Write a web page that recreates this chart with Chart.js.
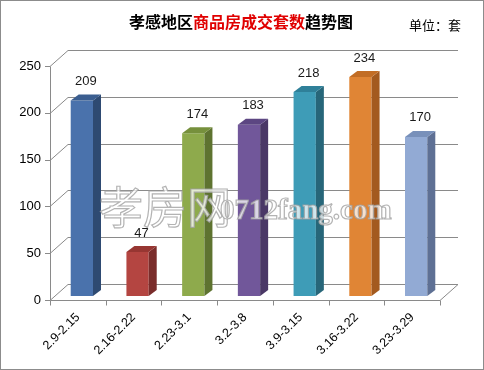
<!DOCTYPE html>
<html>
<head>
<meta charset="utf-8">
<script src="https://cdn.jsdelivr.net/npm/chart.js@4.4.1/dist/chart.umd.min.js"></script>
<style>
  html, body { margin:0; padding:0; background:#fff; }
  #wrap { width:484px; height:370px; }
</style>
</head>
<body>
<div id="wrap"><canvas id="salesChart" width="484" height="370"></canvas></div>
<script>
const weeks = ["2.9-2.15","2.16-2.22","2.23-3.1","3.2-3.8","3.9-3.15","3.16-3.22","3.23-3.29"];
const units = [209, 47, 174, 183, 218, 234, 170];
const yTicks = [0, 50, 100, 150, 200, 250];

const frontColors = ["#4A72AC","#B44541","#8EAA4C","#71579A","#3E9CB7","#E08535","#92AAD4"];
const topColors   = ["#3B5E90","#973632","#76903C","#5C4682","#2F8099","#C26D25","#7890BA"];
const sideColors  = ["#2E4A72","#7A2D2B","#5E7330","#4A3866","#276679","#A35A1F","#5E7094"];

// 3D offsets
const FRONT = {dx:-4, dy:4};
const BACK = {dx:14, dy:-12};
const DEPTH = {dx:8, dy:-6};

const chrome = {
    id:"chrome",
    beforeDraw(chart){
        const ctx = chart.ctx;
        const area = chart.chartArea;
        const y = chart.scales.y;
        ctx.save();
        ctx.fillStyle = "#fff";
        ctx.fillRect(0,0,chart.width,chart.height);
        ctx.strokeStyle = "#8c8c8c";
        ctx.lineWidth = 1;
        ctx.strokeRect(0.5,0.5,chart.width-1,chart.height-1);

        // title, two colours
        ctx.font = "bold 16px 'Noto Sans CJK SC'";
        ctx.textBaseline = "middle";
        const parts = [["孝感地区","#000"],["商品房成交套数","#e00000"],["趋势图","#000"]];
        let total = 0;
        parts.forEach(p => total += ctx.measureText(p[0]).width);
        let tx = 241 - total/2;
        parts.forEach(p => {
            ctx.fillStyle = p[1];
            ctx.textAlign = "left";
            ctx.fillText(p[0], tx, 22);
            tx += ctx.measureText(p[0]).width;
        });
        ctx.font = "13px 'Noto Sans CJK SC'";
        ctx.fillStyle = "#000";
        ctx.fillText("单位：套", 409, 25);

        // walls and grid
        ctx.strokeStyle = "#8a8a8a";
        ctx.lineWidth = 1;
        yTicks.forEach(v => {
            const py = Math.round(y.getPixelForValue(v)) + 0.5;
            ctx.beginPath();
            ctx.moveTo(area.left + FRONT.dx, py + FRONT.dy);
            ctx.lineTo(area.left + BACK.dx, py + BACK.dy);
            ctx.lineTo(area.right + BACK.dx, py + BACK.dy);
            ctx.stroke();
            // y tick mark
            ctx.beginPath();
            ctx.moveTo(area.left + FRONT.dx - 5, py + FRONT.dy);
            ctx.lineTo(area.left + FRONT.dx, py + FRONT.dy);
            ctx.stroke();
        });
        const b = Math.round(y.getPixelForValue(0)) + 0.5;
        const t = Math.round(y.getPixelForValue(250)) + 0.5;
        ctx.beginPath();
        ctx.moveTo(area.left + FRONT.dx + 0.5, t + FRONT.dy);
        ctx.lineTo(area.left + FRONT.dx + 0.5, b + FRONT.dy);
        ctx.lineTo(area.right + FRONT.dx, b + FRONT.dy);
        ctx.lineTo(area.right + BACK.dx, b + BACK.dy);
        ctx.stroke();
        // x tick marks at category borders
        const step = (area.right - area.left) / weeks.length;
        for (let i = 0; i <= weeks.length; i++) {
            const px = Math.round(area.left + FRONT.dx + i*step) + 0.5;
            ctx.beginPath();
            ctx.moveTo(px, b + FRONT.dy);
            ctx.lineTo(px, b + FRONT.dy + 5);
            ctx.stroke();
        }
        ctx.restore();
    },
    afterDatasetsDraw(chart){
        const ctx = chart.ctx;
        const meta = chart.getDatasetMeta(0);
        ctx.save();
        meta.data.forEach((bar, i) => {
            const p = bar.getProps(["x","y","base","width"], true);
            const l = p.x - p.width/2, r = p.x + p.width/2;
            // side
            ctx.fillStyle = sideColors[i];
            ctx.beginPath();
            ctx.moveTo(r, p.y);
            ctx.lineTo(r + DEPTH.dx, p.y + DEPTH.dy);
            ctx.lineTo(r + DEPTH.dx, p.base + DEPTH.dy);
            ctx.lineTo(r, p.base);
            ctx.closePath();
            ctx.fill();
            // top
            ctx.fillStyle = topColors[i];
            ctx.beginPath();
            ctx.moveTo(l, p.y);
            ctx.lineTo(l + DEPTH.dx, p.y + DEPTH.dy);
            ctx.lineTo(r + DEPTH.dx, p.y + DEPTH.dy);
            ctx.lineTo(r, p.y);
            ctx.closePath();
            ctx.fill();
            // value label
            ctx.fillStyle = "#1a1a1a";
            ctx.font = "13px 'Liberation Sans', Arial";
            ctx.textAlign = "center";
            ctx.textBaseline = "middle";
            ctx.fillText(units[i], p.x + DEPTH.dx/2, p.y + DEPTH.dy - 13);
        });

        // watermark
        ctx.lineWidth = 1.2;
        ctx.fillStyle = "rgba(255,255,255,0.75)";
        ctx.strokeStyle = "rgba(160,160,160,0.8)";
        ctx.textAlign = "left";
        ctx.textBaseline = "alphabetic";
        ctx.font = "44px 'Noto Sans CJK SC'";
        ctx.fillText("孝房网", 99, 224);
        ctx.strokeText("孝房网", 99, 224);
        ctx.font = "bold 29px 'Liberation Serif'";
        ctx.fillText("0712fang.com", 220, 219);
        ctx.strokeText("0712fang.com", 220, 219);
        ctx.restore();
    }
};

new Chart(document.getElementById("salesChart"), {

    type:"bar",

    data:{
        labels:weeks,
        datasets:[{
            label:"成交套数",
            data:units,
            backgroundColor:frontColors,
            borderWidth:0,
            barPercentage:0.4,
            categoryPercentage:1
        }]
    },

    options:{
        responsive:false,
        animation:false,
        layout:{
            padding:{top:62, right:40, left:0, bottom:0}
        },
        plugins:{
            legend:{display:false},
            tooltip:{enabled:false}
        },
        scales:{
            x:{
                grid:{display:false, drawTicks:false},
                border:{display:false},
                ticks:{
                    color:"#000",
                    font:{size:12.5, family:"'Liberation Sans', Arial"},
                    minRotation:45,
                    maxRotation:45,
                    labelOffset:-4,
                    padding:14
                },
                afterFit(s){ s.height = 74; }
            },
            y:{
                min:0,
                max:250,
                grid:{display:false, drawTicks:false},
                border:{display:false},
                ticks:{
                    stepSize:50,
                    color:"#000",
                    font:{size:13, family:"'Liberation Sans', Arial"},
                    labelOffset:4,
                    padding:13
                },
                afterFit(s){ s.width = 54; }
            }
        }
    },

    plugins:[chrome]

});
</script>
</body>
</html>
